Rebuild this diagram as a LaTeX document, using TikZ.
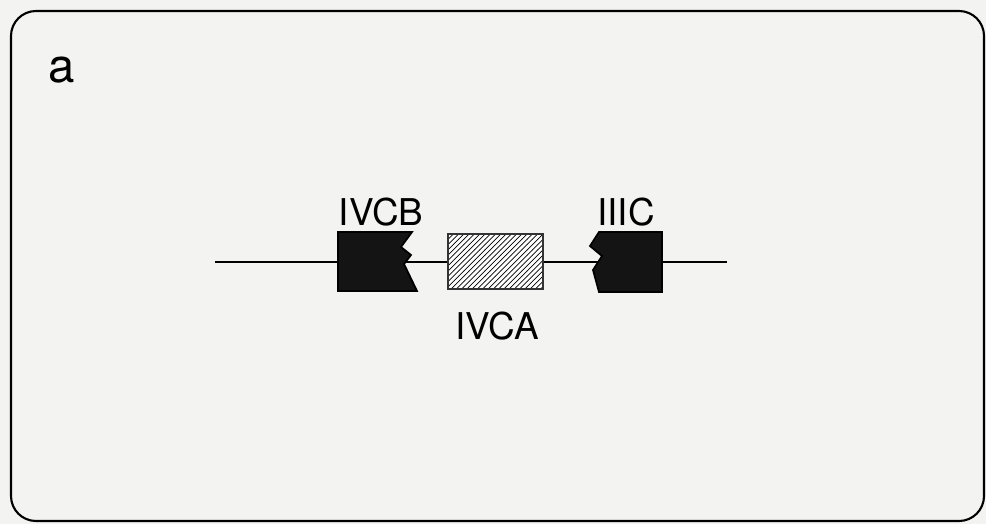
\documentclass[tikz,border=0pt]{standalone}
\usepackage{fontspec}
\setmainfont{TeX Gyre Heros}
\usepackage{xcolor}
\usetikzlibrary{patterns, positioning}

\definecolor{paper}{RGB}{243,243,241}

\begin{document}
\begin{tikzpicture}[
        x=0.02cm, y=-0.02cm,
        gene/.style={fill=black!92, draw=black, line width=1pt},
        label/.style={inner sep=0pt, font=\fontsize{21}{25}\selectfont},
        dna/.style={line width=1.3pt}
    ]
    \useasboundingbox (0,0) rectangle (986,524);
    \fill[paper] (0,0) rectangle (986,524);
    \draw[line width=1.2pt, rounded corners=0.5cm] (11,11) rectangle (984,521);

    \node[inner sep=0pt, font=\fontsize{27}{30}\selectfont] (panel) at (62,70) {a};

    % DNA line
    \coordinate (left) at (215,262);
    \coordinate (right) at (727,262);
    \draw[dna] (left) -- (right);

    % genes
    \draw[gene] (338,232) -- (412,232) -- (401,247) -- (411,255) -- (404,264)
        -- (417,291) -- (338,291) -- cycle;
    \fill[white] (448,234) rectangle (543,289);
    \draw[pattern=north east lines, draw=black!80, line width=1.2pt]
        (448,234) rectangle (543,289);
    \draw[gene] (599,232) -- (662,232) -- (662,292) -- (599,292) -- (593,270)
        -- (602,256) -- (590,246) -- cycle;

    \node[label] (ivcb) at (381,212) {IVCB};
    \node[label] (iiic) at (626,212) {IIIC};
    \node[label] (ivca) at (497,326) {IVCA};
\end{tikzpicture}
\end{document}
